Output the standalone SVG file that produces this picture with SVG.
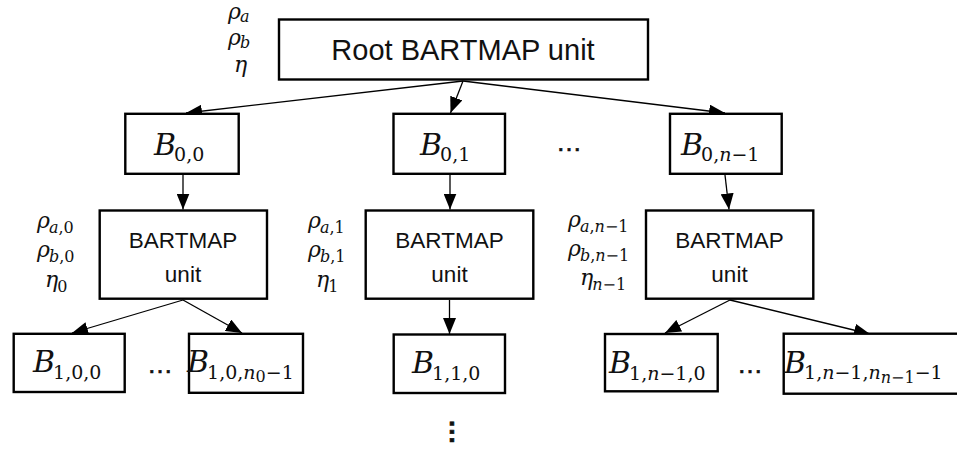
<svg xmlns="http://www.w3.org/2000/svg" width="957" height="452" viewBox="0 0 957 452">
<style>
.box{fill:#fff;stroke:#000;stroke-width:2.4}
.t{font-family:'Liberation Sans',Arial,sans-serif;fill:#111;text-anchor:middle}
.m{font-family:'DejaVu Serif',serif;font-size:30px;fill:#111}
.it{font-style:italic}
.s{font-size:19px}
.ss{font-size:16px}
.l{font-size:22px}
.ls{font-size:16px}
.dots{font-family:'Liberation Sans',Arial,sans-serif;font-size:26px;fill:#111;text-anchor:middle;stroke:#111;stroke-width:0.6}
</style>
<defs>
<marker id="ah" markerUnits="userSpaceOnUse" markerWidth="16" markerHeight="13" viewBox="0 0 16 13" refX="16" refY="6.5" orient="auto">
<path d="M0,0 L16,6.5 L0,13 Z" fill="#000"/>
</marker>
</defs>
<rect width="957" height="452" fill="#fff"/>

<g id="connectors" stroke="#000" stroke-width="1.3" fill="none" marker-end="url(#ah)">
<line x1="463" y1="81" x2="186" y2="113"/>
<line x1="463" y1="81" x2="450.5" y2="113"/>
<line x1="463" y1="81" x2="725" y2="113"/>
<line x1="183" y1="175" x2="183" y2="209.5"/>
<line x1="450" y1="175" x2="450" y2="209.5"/>
<line x1="725" y1="175" x2="729" y2="209.5"/>
<line x1="183" y1="300" x2="72" y2="333"/>
<line x1="183" y1="300" x2="242" y2="333"/>
<line x1="449.5" y1="300" x2="449.5" y2="334"/>
<line x1="730" y1="300" x2="665" y2="333"/>
<line x1="730" y1="300" x2="870" y2="334"/>
</g>

<g id="root">
<rect class="box" x="279" y="19.5" width="369" height="60"/>
<text class="t" x="463" y="60" font-size="29">Root BARTMAP unit</text>
<text class="m l" x="228" y="18.5"><tspan class="it">ρ</tspan><tspan class="it ls" dx="-1" dy="3.5">a</tspan></text>
<text class="m l" x="228" y="44.5"><tspan class="it">ρ</tspan><tspan class="it ls" dx="-1" dy="3.5">b</tspan></text>
<text class="m l" x="234" y="72"><tspan class="it">η</tspan></text>
</g>

<g id="B00">
<rect class="box" x="125.3" y="113.8" width="113.4" height="60"/>
<text class="m" x="154" y="155"><tspan class="it">B</tspan><tspan class="s" dx="-2" dy="6">0,0</tspan></text>
</g>
<g id="B01">
<rect class="box" x="393.5" y="113.8" width="111.5" height="60"/>
<text class="m" x="420" y="155"><tspan class="it">B</tspan><tspan class="s" dx="-2" dy="6">0,1</tspan></text>
</g>
<text class="dots" x="569" y="151">…</text>
<g id="B0n1">
<rect class="box" x="670" y="113.8" width="111.7" height="60"/>
<text class="m" x="681" y="155"><tspan class="it">B</tspan><tspan class="s" dx="-2" dy="6">0,<tspan class="it">n</tspan>−1</tspan></text>
</g>

<g id="unit0">
<rect class="box" x="99.7" y="210.5" width="167.3" height="88.2"/>
<text class="t" x="183" y="248" font-size="22.5">BARTMAP</text>
<text class="t" x="183" y="282" font-size="22.5">unit</text>
<text class="m l" x="37" y="228"><tspan class="it">ρ</tspan><tspan class="ls" dx="-1" dy="4.5"><tspan class="it">a</tspan>,0</tspan></text>
<text class="m l" x="37" y="257"><tspan class="it">ρ</tspan><tspan class="ls" dx="-1" dy="4.5"><tspan class="it">b</tspan>,0</tspan></text>
<text class="m l" x="45" y="287"><tspan class="it">η</tspan><tspan class="ls" dx="-1" dy="4.5">0</tspan></text>
</g>
<g id="unit1">
<rect class="box" x="365.7" y="210.5" width="167.6" height="88.2"/>
<text class="t" x="449.5" y="248" font-size="22.5">BARTMAP</text>
<text class="t" x="449.5" y="282" font-size="22.5">unit</text>
<text class="m l" x="308" y="228"><tspan class="it">ρ</tspan><tspan class="ls" dx="-1" dy="4.5"><tspan class="it">a</tspan>,1</tspan></text>
<text class="m l" x="308" y="257"><tspan class="it">ρ</tspan><tspan class="ls" dx="-1" dy="4.5"><tspan class="it">b</tspan>,1</tspan></text>
<text class="m l" x="316" y="287"><tspan class="it">η</tspan><tspan class="ls" dx="-1" dy="4.5">1</tspan></text>
</g>
<g id="unitn1">
<rect class="box" x="646" y="210.5" width="167.3" height="88.2"/>
<text class="t" x="729.5" y="248" font-size="22.5">BARTMAP</text>
<text class="t" x="729.5" y="282" font-size="22.5">unit</text>
<text class="m l" x="568" y="227"><tspan class="it">ρ</tspan><tspan class="ls" dx="-1" dy="4.5"><tspan class="it">a</tspan>,<tspan class="it">n</tspan>−1</tspan></text>
<text class="m l" x="568" y="256"><tspan class="it">ρ</tspan><tspan class="ls" dx="-1" dy="4.5"><tspan class="it">b</tspan>,<tspan class="it">n</tspan>−1</tspan></text>
<text class="m l" x="580" y="285"><tspan class="it">η</tspan><tspan class="ls" dx="-1" dy="4.5"><tspan class="it">n</tspan>−1</tspan></text>
</g>

<g id="B100">
<rect class="box" x="13.7" y="333.8" width="111" height="58.2"/>
<text class="m" x="33" y="372"><tspan class="it">B</tspan><tspan class="s" dx="-2" dy="7">1,0,0</tspan></text>
</g>
<text class="dots" x="160" y="373">…</text>
<g id="B10n0">
<rect class="box" x="189" y="333.8" width="114" height="59"/>
<text class="m" x="187" y="372"><tspan class="it">B</tspan><tspan class="s" dx="-2" dy="7">1,0,<tspan class="it">n</tspan></tspan><tspan class="ss" dy="3">0</tspan><tspan class="s" dy="-3">−1</tspan></text>
</g>
<g id="B110">
<rect class="box" x="393.7" y="334.5" width="111.3" height="58.5"/>
<text class="m" x="412" y="373"><tspan class="it">B</tspan><tspan class="s" dx="-2" dy="7">1,1,0</tspan></text>
</g>
<text class="dots" transform="rotate(90 452 432)" x="452" y="434.4" font-size="34" font-weight="bold" stroke-width="0.8">…</text>
<g id="B1n10">
<rect class="box" x="605" y="334" width="112.7" height="57.3"/>
<text class="m" x="609" y="372.5"><tspan class="it">B</tspan><tspan class="s" dx="-2" dy="7">1,<tspan class="it">n</tspan>−1,0</tspan></text>
</g>
<text class="dots" x="750" y="373">…</text>
<g id="B1n1last">
<rect class="box" x="783.7" y="333.7" width="180" height="60"/>
<text class="m" x="784" y="372.5"><tspan class="it">B</tspan><tspan class="s" dx="-2" dy="6">1,<tspan class="it">n</tspan>−1,<tspan class="it">n</tspan></tspan><tspan class="ss" dy="4.5"><tspan class="it">n</tspan>−1</tspan><tspan class="s" dy="-4.5">−1</tspan></text>
</g>
</svg>
